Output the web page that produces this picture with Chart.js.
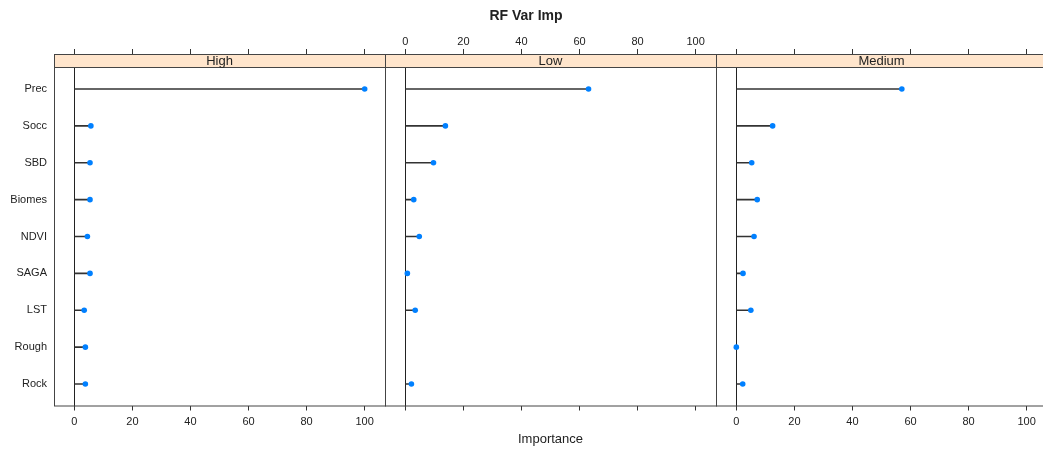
<!DOCTYPE html>
<html>
<head>
<meta charset="utf-8">
<title>RF Var Imp</title>
<script src="https://cdn.jsdelivr.net/npm/chart.js@4.4.1/dist/chart.umd.min.js"></script>
<style>
  html, body { margin: 0; padding: 0; background: #fff; }
  #wrap { position: relative; width: 1043px; height: 450px; overflow: hidden; }
  #wrap canvas { position: absolute; left: 0; top: 0; }
</style>
</head>
<body>
<div id="wrap">
  <canvas id="pHigh" width="1060" height="450"></canvas>
  <canvas id="pLow" width="1060" height="450"></canvas>
  <canvas id="pMedium" width="1060" height="450"></canvas>
</div>
<script>
// data
const variables = ['Prec', 'Socc', 'SBD', 'Biomes', 'NDVI', 'SAGA', 'LST', 'Rough', 'Rock'];
const highValues = [100, 5.7, 5.4, 5.4, 4.5, 5.4, 3.4, 3.8, 3.8];
const lowValues = [63.1, 13.8, 9.7, 2.9, 4.8, 0.7, 3.4, null, 2.1];
const mediumValues = [57.0, 12.5, 5.3, 7.2, 6.1, 2.3, 5.0, 0, 2.2];
const xTicks = [0, 20, 40, 60, 80, 100];
const panelNames = ['High', 'Low', 'Medium'];
const chartTitle = 'RF Var Imp';
const xTitle = 'Importance';

// layout
const FONT = "'Liberation Sans', Arial, sans-serif";
const W = 1060;
const TOP = 54, STRIP_H = 13, BOTTOM = 405.5;
const FIRST_ROW = 89, LAST_ROW = 384;
const PANEL_LEFT = [54, 385, 716];
const PANEL_W = 331;

const rowStep = (LAST_ROW - FIRST_ROW) / (variables.length - 1);
const yMin = -(FIRST_ROW - TOP) / rowStep;
const yMax = variables.length - 1 + (BOTTOM - LAST_ROW) / rowStep;

Chart.defaults.font.family = FONT;
Chart.defaults.color = '#222';

// panel box, strip and title
const panelFrame = {
    id: 'panelFrame',
    afterDraw(chart, args, opts) {
        const ctx = chart.ctx;
        const a = chart.chartArea;
        ctx.save();
        ctx.fillStyle = '#ffe5cc';
        ctx.fillRect(a.left, a.top, a.right - a.left, STRIP_H);
        ctx.strokeStyle = '#444';
        ctx.lineWidth = 1;
        ctx.strokeRect(a.left + 0.5, a.top + 0.5, a.right - a.left, a.bottom - a.top);
        ctx.beginPath();
        ctx.moveTo(a.left, a.top + STRIP_H + 0.5);
        ctx.lineTo(a.right, a.top + STRIP_H + 0.5);
        ctx.stroke();
        ctx.fillStyle = '#222';
        ctx.textAlign = 'center';
        ctx.textBaseline = 'middle';
        ctx.font = '13px ' + FONT;
        ctx.fillText(opts.label, (a.left + a.right) / 2, a.top + STRIP_H / 2 + 1);
        if (opts.title) {
            ctx.font = 'bold 14px ' + FONT;
            ctx.fillText(opts.title, 526, 16);
        }
        ctx.restore();
    }
};

function makePanel(id, idx, values) {
    const left = PANEL_LEFT[idx];
    const isFirst = idx === 0;
    const pts = values.map((v, i) => ({ x: v, y: i }));
    const setXTicks = s => { s.ticks = xTicks.map(v => ({ value: v })); };

    return new Chart(document.getElementById(id), {
        type: 'bar',
        data: {
            datasets: [
                {
                    type: 'scatter',
                    data: pts,
                    xAxisID: 'x', yAxisID: 'y',
                    backgroundColor: '#0080ff',
                    pointRadius: 2.8,
                    borderWidth: 0,
                    order: 0
                },
                {
                    type: 'bar',
                    indexAxis: 'y',
                    data: pts,
                    xAxisID: 'x', yAxisID: 'y',
                    backgroundColor: '#333',
                    barThickness: 1,
                    order: 1
                }
            ]
        },
        options: {
            indexAxis: 'y',
            responsive: false,
            animation: false,
            layout: { padding: { left: isFirst ? 0 : left, right: W - (left + PANEL_W), top: 0, bottom: 0 } },
            plugins: {
                legend: { display: false },
                tooltip: { enabled: false },
                panelFrame: { label: panelNames[idx], title: idx === 1 ? chartTitle : null }
            },
            scales: {
                x: {
                    type: 'linear', axis: 'x', position: 'bottom',
                    min: -7, max: 107, offset: false,
                    afterBuildTicks: setXTicks,
                    afterFit: s => { s.height = 450 - BOTTOM; },
                    grid: {
                        offset: false,
                        drawOnChartArea: true, drawTicks: true, tickLength: 5,
                        tickColor: '#333', lineWidth: 1,
                        color: c => (c.tick && c.tick.value === 0) ? '#222' : 'rgba(0,0,0,0)'
                    },
                    border: { display: false },
                    ticks: { display: idx !== 1, font: { size: 11 }, color: '#222', padding: 5, maxRotation: 0 },
                    title: {
                        display: idx === 1, text: xTitle,
                        font: { size: 13 }, color: '#222',
                        padding: { top: 0, bottom: 3 }
                    }
                },
                x2: {
                    type: 'linear', axis: 'x', position: 'top',
                    min: -7, max: 107, offset: false,
                    afterBuildTicks: setXTicks,
                    afterFit: s => { s.height = TOP; },
                    grid: { offset: false, drawOnChartArea: false, drawTicks: true, tickLength: 5, tickColor: '#333' },
                    border: { display: false },
                    ticks: { display: idx === 1, font: { size: 11 }, color: '#222', padding: 0, maxRotation: 0 }
                },
                y: {
                    type: 'linear', axis: 'y', reverse: true,
                    min: yMin, max: yMax, offset: false,
                    display: isFirst,
                    afterBuildTicks: s => { s.ticks = variables.map((_, i) => ({ value: i })); },
                    afterFit: s => { s.width = isFirst ? 54 : 0; },
                    grid: { display: false, drawTicks: false, offset: false },
                    border: { display: false },
                    ticks: { callback: v => variables[v], font: { size: 11 }, color: '#222', padding: 7 }
                }
            }
        },
        plugins: [panelFrame]
    });
}

makePanel('pHigh', 0, highValues);
makePanel('pLow', 1, lowValues);
makePanel('pMedium', 2, mediumValues);
</script>
</body>
</html>
